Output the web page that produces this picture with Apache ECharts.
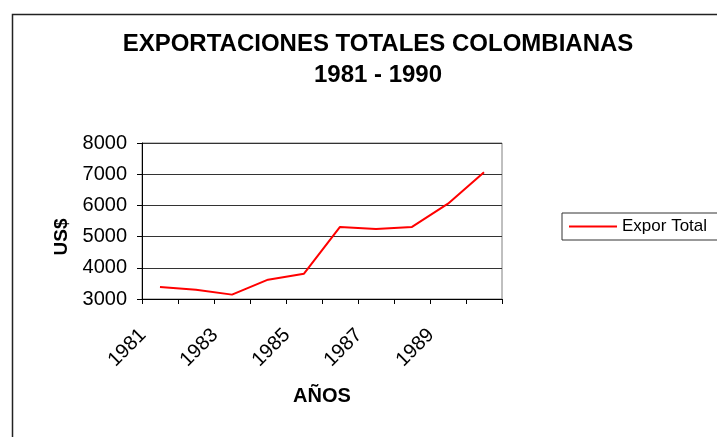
<!DOCTYPE html>
<html>
<head>
<meta charset="utf-8">
<script src="https://cdn.jsdelivr.net/npm/echarts@6/dist/echarts.min.js"></script>
<style>
  html, body { margin: 0; padding: 0; background: #fff; }
  #main { width: 717px; height: 437px; }
</style>
</head>
<body>
<div id="main"></div>
<script>
// data
var years = ['1981', '1982', '1983', '1984', '1985', '1986', '1987', '1988', '1989', '1990'];
var exporTotal = [3385, 3300, 3140, 3620, 3810, 5310, 5245, 5310, 6055, 7060];
var seriesName = 'Expor Total';

var chartDom = document.getElementById('main');
var myChart = echarts.init(chartDom);
var option;

var font = 'Arial, "Liberation Sans", sans-serif';

option = {
    backgroundColor: '#fff',
    animation: false,
    textStyle: { fontFamily: font },
    title: {
        text: 'EXPORTACIONES TOTALES COLOMBIANAS\n1981 - 1990',
        left: 373,
        top: 24,
        textAlign: 'center',
        textStyle: {
            fontFamily: font,
            fontSize: 24,
            fontWeight: 'bold',
            color: '#000',
            lineHeight: 31
        }
    },
    legend: {
        data: [seriesName],
        left: 562,
        top: 213,
        orient: 'vertical',
        padding: [5, 20, 5, 7],
        borderColor: '#333',
        borderWidth: 1,
        itemWidth: 48,
        itemHeight: 2,
        itemGap: 5,
        icon: 'rect',
        textStyle: {
            fontFamily: font,
            fontSize: 17,
            color: '#000'
        }
    },
    grid: {
        left: 142,
        right: 215,
        top: 143,
        bottom: 138,
        show: true,
        borderColor: '#808080',
        borderWidth: 1
    },
    xAxis: {
        type: 'category',
        data: years,
        boundaryGap: true,
        name: 'AÑOS',
        nameLocation: 'middle',
        nameGap: 87,
        nameTextStyle: {
            fontFamily: font,
            fontSize: 20,
            fontWeight: 'bold',
            color: '#000'
        },
        axisLine: { lineStyle: { color: '#000', width: 1 } },
        axisTick: { show: true, length: 5, interval: 0, lineStyle: { color: '#000' } },
        axisLabel: {
            interval: 1,
            rotate: 45,
            margin: 16,
            padding: [0, 24, 0, 0],
            fontFamily: font,
            fontSize: 20,
            color: '#000'
        },
        splitLine: { show: false }
    },
    yAxis: {
        type: 'value',
        min: 3000,
        max: 8000,
        interval: 1000,
        name: 'US$',
        nameLocation: 'middle',
        nameGap: 60,
        nameRotate: 90,
        nameTextStyle: {
            fontFamily: font,
            fontSize: 19,
            fontWeight: 'bold',
            color: '#000',
            padding: [0, 32, 0, 0]
        },
        axisLine: { show: true, lineStyle: { color: '#000', width: 1 } },
        axisTick: { show: true, length: 5, lineStyle: { color: '#000' } },
        axisLabel: {
            margin: 15,
            formatter: function (v) { return String(v); },
            fontFamily: font,
            fontSize: 20,
            color: '#000'
        },
        splitLine: { show: true, lineStyle: { color: '#333', width: 1 } }
    },
    series: [
        {
            name: seriesName,
            type: 'line',
            data: exporTotal,
            showSymbol: false,
            symbol: 'none',
            lineStyle: { color: '#ff0000', width: 2 },
            itemStyle: { color: '#ff0000' }
        }
    ],
    graphic: [
        {
            type: 'rect',
            left: 10,
            top: 12,
            shape: { width: 720, height: 440 },
            style: { fill: 'none', stroke: '#222', lineWidth: 1.5 },
            silent: true
        }
    ]
};

option && myChart.setOption(option);
</script>
</body>
</html>
